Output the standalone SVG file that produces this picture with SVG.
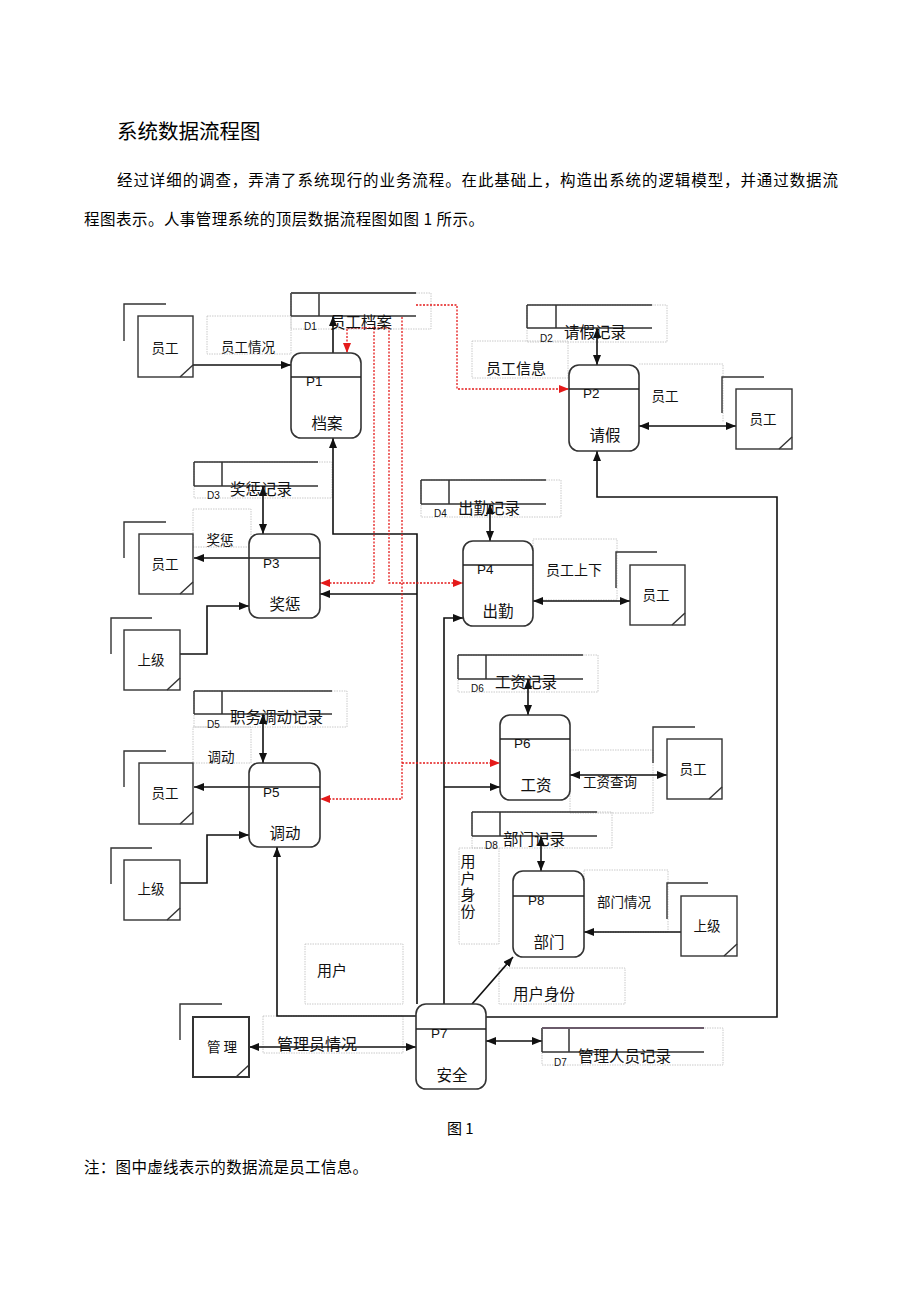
<svg xmlns="http://www.w3.org/2000/svg" width="920" height="1302" viewBox="0 0 920 1302">
<defs>
<style>
.t{font-family:"Noto Sans CJK SC","Liberation Sans",sans-serif;fill:#111}
.pg{font-size:15.5px;fill:#000}
.lbl{font-size:13.5px}
.nm{font-size:15.5px}
.pl{font-family:"Liberation Sans","Noto Sans",sans-serif;font-size:13.5px;fill:#111}
.dl{font-family:"Liberation Sans","Noto Sans",sans-serif;font-size:10px;fill:#111}
.ent{fill:#fff;stroke:#333;stroke-width:1.4}
.brk{fill:none;stroke:#333;stroke-width:1.4}
.proc{fill:#fff;stroke:#333;stroke-width:1.6}
.div{stroke:#222;stroke-width:1.4}
.ds{fill:none;stroke:#333;stroke-width:1.5}
.fr{fill:none;stroke:#bdbdbd;stroke-width:0.8;stroke-dasharray:1.5 1}
.c{fill:none;stroke:#111;stroke-width:1.6}
.r{fill:none;stroke:#e41a1a;stroke-width:1.3;stroke-dasharray:2 1.5}
</style>
<marker id="ah" viewBox="0 0 10 8" refX="10" refY="4" markerWidth="10" markerHeight="8" markerUnits="userSpaceOnUse" orient="auto-start-reverse"><path d="M0,0 L10,4 L0,8 z" fill="#111"/></marker>
<marker id="ahr" viewBox="0 0 10 8" refX="10" refY="4" markerWidth="10" markerHeight="8" markerUnits="userSpaceOnUse" orient="auto-start-reverse"><path d="M0,0 L10,4 L0,8 z" fill="#e41a1a"/></marker>
</defs>
<rect width="920" height="1302" fill="#fff"/>

<g id="page-text">
<text class="t" x="117" y="139" style="font-size:20.5px;fill:#000">系统数据流程图</text>
<text class="t pg" x="117" y="186" textLength="721" lengthAdjust="spacing">经过详细的调查，弄清了系统现行的业务流程。在此基础上，构造出系统的逻辑模型，并通过数据流</text>
<text class="t pg" x="84" y="225" textLength="400" lengthAdjust="spacing">程图表示。人事管理系统的顶层数据流程图如图 1 所示。</text>
<text class="t" x="447" y="1134" style="font-size:15px;fill:#000">图 1</text>
<text class="t pg" x="84" y="1173" textLength="284" lengthAdjust="spacing">注：图中虚线表示的数据流是员工信息。</text>
</g>

<g id="label-frames">
<rect class="fr" x="291" y="293" width="140" height="36"/>
<rect class="fr" x="207" y="316" width="84" height="38"/>
<rect class="fr" x="527" y="305" width="140" height="37"/>
<rect class="fr" x="472" y="341" width="96" height="37"/>
<path class="fr" d="M639,364 H723 V422"/>
<rect class="fr" x="194" y="462" width="138" height="36"/>
<rect class="fr" x="193" y="509" width="58" height="38"/>
<rect class="fr" x="421" y="480" width="140" height="37"/>
<rect class="fr" x="533" y="539" width="84" height="61"/>
<rect class="fr" x="194" y="691" width="153" height="36"/>
<rect class="fr" x="193" y="727" width="58" height="36"/>
<rect class="fr" x="458" y="655" width="140" height="37"/>
<rect class="fr" x="570" y="750" width="83" height="63"/>
<rect class="fr" x="472" y="812" width="140" height="36"/>
<rect class="fr" x="459" y="848" width="40" height="96"/>
<rect class="fr" x="584" y="870" width="84" height="62"/>
<rect class="fr" x="305" y="944" width="98" height="60"/>
<rect class="fr" x="499" y="968" width="126" height="36"/>
<rect class="fr" x="263" y="1016" width="140" height="37"/>
<rect class="fr" x="542" y="1028" width="181" height="37"/>
</g>

<g id="connectors">
<path class="c" d="M193,365 H291" marker-end="url(#ah)"/>
<path class="c" d="M333,353 V316" marker-end="url(#ah)"/>
<path class="c" d="M417,1004 V534 H333 V438" marker-end="url(#ah)"/>
<path class="c" d="M417,594 H320" marker-end="url(#ah)"/>
<path class="c" d="M444,1004 V618 H463" marker-end="url(#ah)"/>
<path class="c" d="M444,787 H500" marker-end="url(#ah)"/>
<path class="c" d="M416,1016 H277 V847" marker-end="url(#ah)"/>
<path class="c" d="M486,1017 H777 V497 H597 V451" marker-end="url(#ah)"/>
<path class="c" d="M597,328 V365" marker-start="url(#ah)" marker-end="url(#ah)"/>
<path class="c" d="M639,426 H736" marker-start="url(#ah)" marker-end="url(#ah)"/>
<path class="c" d="M263,486 V534" marker-start="url(#ah)" marker-end="url(#ah)"/>
<path class="c" d="M320,558 H194" marker-end="url(#ah)"/>
<path class="c" d="M180,654 H207 V606 H249" marker-end="url(#ah)"/>
<path class="c" d="M490,504 V541" marker-start="url(#ah)" marker-end="url(#ah)"/>
<path class="c" d="M533,601 H630" marker-start="url(#ah)" marker-end="url(#ah)"/>
<path class="c" d="M263,714 V763" marker-start="url(#ah)" marker-end="url(#ah)"/>
<path class="c" d="M320,787 H194" marker-end="url(#ah)"/>
<path class="c" d="M180,883 H207 V835 H249" marker-end="url(#ah)"/>
<path class="c" d="M528,679 V715" marker-start="url(#ah)" marker-end="url(#ah)"/>
<path class="c" d="M570,775 H667" marker-start="url(#ah)" marker-end="url(#ah)"/>
<path class="c" d="M541,836 V871" marker-start="url(#ah)" marker-end="url(#ah)"/>
<path class="c" d="M681,932 H584" marker-end="url(#ah)"/>
<path class="c" d="M249,1047 H416" marker-start="url(#ah)" marker-end="url(#ah)"/>
<path class="c" d="M486,1041 H542" marker-start="url(#ah)" marker-end="url(#ah)"/>
<path class="c" d="M472,1004 L513,957" marker-end="url(#ah)"/>
<path class="r" d="M374,328 H347 V353" marker-end="url(#ahr)"/>
<path class="r" d="M374,328 V583 H320" marker-end="url(#ahr)"/>
<path class="r" d="M374,328 H389 V583 H463" marker-end="url(#ahr)"/>
<path class="r" d="M402,317 V799 H320" marker-end="url(#ahr)"/>
<path class="r" d="M402,763 H500" marker-end="url(#ahr)"/>
<path class="r" d="M416,305 H457 V389 H569" marker-end="url(#ahr)"/>
</g>

<g id="connector-labels">
<text class="t lbl" x="221" y="352">员工情况</text>
<text class="t" x="486" y="374" style="font-size:15px">员工信息</text>
<text class="t lbl" x="665" y="401" text-anchor="middle">员工</text>
<text class="t lbl" x="220" y="545" text-anchor="middle">奖惩</text>
<text class="t" x="546" y="575" style="font-size:14px">员工上下</text>
<text class="t lbl" x="221" y="762" text-anchor="middle">调动</text>
<text class="t lbl" x="583" y="787">工资查询</text>
<text class="t lbl" x="597" y="907">部门情况</text>
<text class="t" x="468" y="854" style="font-size:15px;writing-mode:vertical-rl;letter-spacing:1.5px">用户身份</text>
<text class="t" x="317" y="976" style="font-size:15px">用户</text>
<text class="t nm" x="513" y="1000">用户身份</text>
<text class="t" x="277" y="1050" style="font-size:16px">管理员情况</text>
</g>

<g id="E1"><path class="brk" d="M124,341 V304 H166"/><rect class="ent" x="138" y="316" width="55" height="61"/><path class="brk" d="M180,377 L193,365"/><text class="t lbl" x="165" y="353" text-anchor="middle">员工</text></g>
<g id="E2"><path class="brk" d="M124,558 V522 H166"/><rect class="ent" x="139" y="534" width="54" height="60"/><path class="brk" d="M180,594 L193,582"/><text class="t lbl" x="165" y="569" text-anchor="middle">员工</text></g>
<g id="E3"><path class="brk" d="M111,654 V618 H152"/><rect class="ent" x="124" y="630" width="56" height="60"/><path class="brk" d="M167,690 L180,678"/><text class="t lbl" x="151" y="665" text-anchor="middle">上级</text></g>
<g id="E4"><path class="brk" d="M124,787 V751 H166"/><rect class="ent" x="139" y="763" width="54" height="61"/><path class="brk" d="M180,824 L193,812"/><text class="t lbl" x="165" y="798" text-anchor="middle">员工</text></g>
<g id="E5"><path class="brk" d="M111,884 V848 H152"/><rect class="ent" x="124" y="860" width="56" height="60"/><path class="brk" d="M167,920 L180,908"/><text class="t lbl" x="151" y="894" text-anchor="middle">上级</text></g>
<g id="E6"><path class="brk" d="M722,413 V377 H764"/><rect class="ent" x="736" y="389" width="56" height="60"/><path class="brk" d="M779,449 L792,437"/><text class="t lbl" x="763" y="424" text-anchor="middle">员工</text></g>
<g id="E7"><path class="brk" d="M616,588 V552 H657"/><rect class="ent" x="630" y="565" width="55" height="60"/><path class="brk" d="M672,625 L685,613"/><text class="t lbl" x="656" y="600" text-anchor="middle">员工</text></g>
<g id="E8"><path class="brk" d="M653,763 V727 H695"/><rect class="ent" x="667" y="739" width="55" height="60"/><path class="brk" d="M709,799 L722,787"/><text class="t lbl" x="693" y="774" text-anchor="middle">员工</text></g>
<g id="E9"><path class="brk" d="M667,919 V883 H708"/><rect class="ent" x="681" y="896" width="56" height="60"/><path class="brk" d="M724,956 L737,944"/><text class="t lbl" x="707" y="931" text-anchor="middle">上级</text></g>
<g id="E10"><path class="brk" d="M180,1040 V1004 H222"/><rect class="ent" x="193" y="1017" width="56" height="60" style="stroke-width:2"/><path class="brk" d="M236,1077 L249,1065"/><text class="t lbl" x="222" y="1052" text-anchor="middle">管 理</text></g>

<g id="P1"><rect class="proc" x="291" y="353" width="70" height="85" rx="10"/><line class="div" x1="291" y1="377" x2="361" y2="377"/><text class="pl" x="306" y="386">P1</text><text class="t nm" x="327" y="429" text-anchor="middle">档案</text></g>
<g id="P2"><rect class="proc" x="569" y="365" width="70" height="86" rx="10"/><line class="div" x1="569" y1="389" x2="639" y2="389"/><text class="pl" x="583" y="398">P2</text><text class="t nm" x="605" y="441" text-anchor="middle">请假</text></g>
<g id="P3"><rect class="proc" x="249" y="534" width="71" height="84" rx="10"/><line class="div" x1="249" y1="558" x2="320" y2="558"/><text class="pl" x="263" y="568">P3</text><text class="t nm" x="285" y="610" text-anchor="middle">奖惩</text></g>
<g id="P4"><rect class="proc" x="463" y="541" width="70" height="85" rx="10"/><line class="div" x1="463" y1="565" x2="533" y2="565"/><text class="pl" x="477" y="574">P4</text><text class="t nm" x="498" y="617" text-anchor="middle">出勤</text></g>
<g id="P5"><rect class="proc" x="249" y="763" width="71" height="84" rx="10"/><line class="div" x1="249" y1="787" x2="320" y2="787"/><text class="pl" x="263" y="797">P5</text><text class="t nm" x="285" y="839" text-anchor="middle">调动</text></g>
<g id="P6"><rect class="proc" x="500" y="715" width="70" height="85" rx="10"/><line class="div" x1="500" y1="739" x2="570" y2="739"/><text class="pl" x="514" y="748">P6</text><text class="t nm" x="536" y="791" text-anchor="middle">工资</text></g>
<g id="P7"><rect class="proc" x="416" y="1004" width="70" height="85" rx="10"/><line class="div" x1="416" y1="1029" x2="486" y2="1029"/><text class="pl" x="431" y="1038">P7</text><text class="t nm" x="452" y="1081" text-anchor="middle">安全</text></g>
<g id="P8"><rect class="proc" x="513" y="871" width="71" height="86" rx="10"/><line class="div" x1="513" y1="896" x2="584" y2="896"/><text class="pl" x="528" y="905">P8</text><text class="t nm" x="549" y="948" text-anchor="middle">部门</text></g>

<g id="D1"><path class="ds" d="M291,316 H416 M291,293 V316 M319,293 V316"/><path d="M291,293 H416" stroke="#555" stroke-width="2.2"/><text class="dl" x="304" y="330">D1</text><text class="t nm" x="330" y="328">员工档案</text></g>
<g id="D2"><path class="ds" d="M527,305 H652 M527,328 H652 M527,305 V328 M556,305 V328"/><text class="dl" x="540" y="342">D2</text><text class="t nm" x="564" y="338">请假记录</text></g>
<g id="D3"><path class="ds" d="M194,462 H318 M194,486 H318 M194,462 V486 M222,462 V486"/><text class="dl" x="207" y="499">D3</text><text class="t nm" x="230" y="495">奖惩记录</text></g>
<g id="D4"><path class="ds" d="M421,480 H546 M421,504 H546 M421,480 V504 M449,480 V504"/><text class="dl" x="434" y="517">D4</text><text class="t nm" x="458" y="514">出勤记录</text></g>
<g id="D5"><path class="ds" d="M194,691 H332 M194,714 H332 M194,691 V714 M222,691 V714"/><text class="dl" x="207" y="728">D5</text><text class="t nm" x="230" y="723">职务调动记录</text></g>
<g id="D6"><path class="ds" d="M458,655 H583 M458,679 H583 M458,655 V679 M486,655 V679"/><text class="dl" x="471" y="692">D6</text><text class="t nm" x="495" y="688">工资记录</text></g>
<g id="D8"><path class="ds" d="M472,812 H597 M472,836 H597 M472,812 V836 M500,812 V836"/><text class="dl" x="485" y="849">D8</text><text class="t nm" x="503" y="845">部门记录</text></g>
<g id="D7"><path class="ds" d="M542,1052 H704 M542,1028 V1052 M569,1028 V1052"/><path d="M542,1028 H704" stroke="#6a5a6a" stroke-width="2"/><text class="dl" x="554" y="1066">D7</text><text class="t nm" x="578" y="1062">管理人员记录</text></g>
</svg>
